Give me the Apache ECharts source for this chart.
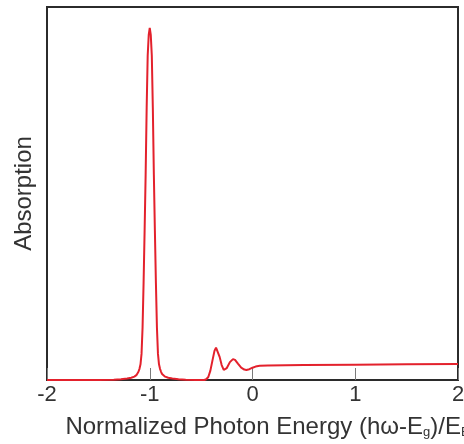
<!DOCTYPE html>
<html>
<head>
<meta charset="utf-8">
<script src="https://cdn.jsdelivr.net/npm/echarts@6/dist/echarts.min.js"></script>
<style>
  html, body { margin: 0; padding: 0; background: #fff; }
  #chart { width: 464px; height: 444px; }
</style>
</head>
<body>
<div id="chart"></div>
<script>
// Normalized photon energy (hω - Eg) / EB
const energy = [
  -2.00, -1.50, -1.35, -1.28, -1.22, -1.18, -1.15, -1.13, -1.12, -1.11,
  -1.10, -1.09, -1.08, -1.07, -1.06, -1.05, -1.04, -1.03, -1.02, -1.01,
  -1.00, -0.99, -0.98, -0.97, -0.96, -0.95, -0.94, -0.93, -0.92, -0.91,
  -0.90, -0.89, -0.88, -0.87, -0.85, -0.82, -0.78, -0.72, -0.65, -0.55,
  -0.47, -0.45, -0.43, -0.41, -0.39, -0.37, -0.355, -0.34, -0.32, -0.30,
  -0.28, -0.265, -0.25, -0.22, -0.19, -0.17, -0.14, -0.11, -0.08, -0.06,
  -0.03, 0.00, 0.03, 0.07, 0.15, 0.50, 1.00, 1.50, 2.00
];
// Absorption (arbitrary units)
const absorption = [
  0, 0, 0.001, 0.002, 0.004, 0.006, 0.009, 0.013, 0.016, 0.022,
  0.030, 0.042, 0.070, 0.14, 0.26, 0.40, 0.55, 0.73, 0.87, 0.925,
  0.944, 0.925, 0.87, 0.73, 0.55, 0.40, 0.26, 0.14, 0.070, 0.042,
  0.030, 0.022, 0.016, 0.013, 0.009, 0.006, 0.004, 0.002, 0.001, 0,
  0, 0.002, 0.008, 0.025, 0.052, 0.078, 0.087, 0.082, 0.062, 0.040,
  0.027, 0.025, 0.032, 0.048, 0.056, 0.054, 0.043, 0.033, 0.028, 0.027,
  0.029, 0.033, 0.036, 0.038, 0.039, 0.040, 0.041, 0.042, 0.043
];
const xTicks = [-2, -1, 0, 1, 2];

const points = energy.map((e, i) => [e, absorption[i]]);
const font = '"Liberation Sans", Arial, Helvetica, sans-serif';

const chart = echarts.init(document.getElementById('chart'), null, { renderer: 'canvas' });
chart.setOption({
  animation: false,
  backgroundColor: '#ffffff',
  grid: {
    left: 47, right: 6, top: 7, bottom: 64,
    containLabel: false,
    outerBoundsMode: 'none',
    show: true, borderColor: '#2b2b2b', borderWidth: 2, backgroundColor: 'transparent'
  },
  xAxis: {
    type: 'value',
    min: xTicks[0], max: xTicks[xTicks.length - 1], interval: 1,
    axisLine: { show: true, onZero: false, lineStyle: { color: '#2b2b2b', width: 2 } },
    axisTick: { show: true, inside: true, length: 12, lineStyle: { color: '#7a7a7a', width: 1 } },
    splitLine: { show: false },
    axisLabel: { color: '#333', fontFamily: font, fontSize: 22, margin: 4,
      formatter: v => String(v) },
    name: '{a|Normalized Photon Energy (hω-E}{s|g}{a|)/E}{s|B}',
    nameLocation: 'middle',
    nameGap: 35,
    nameTextStyle: {
      padding: [0, 0, 0, 30],
      rich: {
        a: { fontFamily: font, fontSize: 24, color: '#333' },
        s: { fontFamily: font, fontSize: 13, color: '#333', padding: [11, 0, 0, 0] }
      }
    }
  },
  yAxis: {
    type: 'value',
    min: 0, max: 1,
    axisLine: { show: true, onZero: false, lineStyle: { color: '#2b2b2b', width: 2 } },
    axisTick: { show: false },
    axisLabel: { show: false },
    splitLine: { show: false },
    name: 'Absorption',
    nameLocation: 'middle',
    nameGap: 11,
    nameTextStyle: { fontFamily: font, fontSize: 24, color: '#333' }
  },
  series: [{
    type: 'line',
    data: points,
    showSymbol: false,
    smooth: false,
    clip: true,
    lineStyle: { color: '#e3212c', width: 2 }
  }]
});
</script>
</body>
</html>
